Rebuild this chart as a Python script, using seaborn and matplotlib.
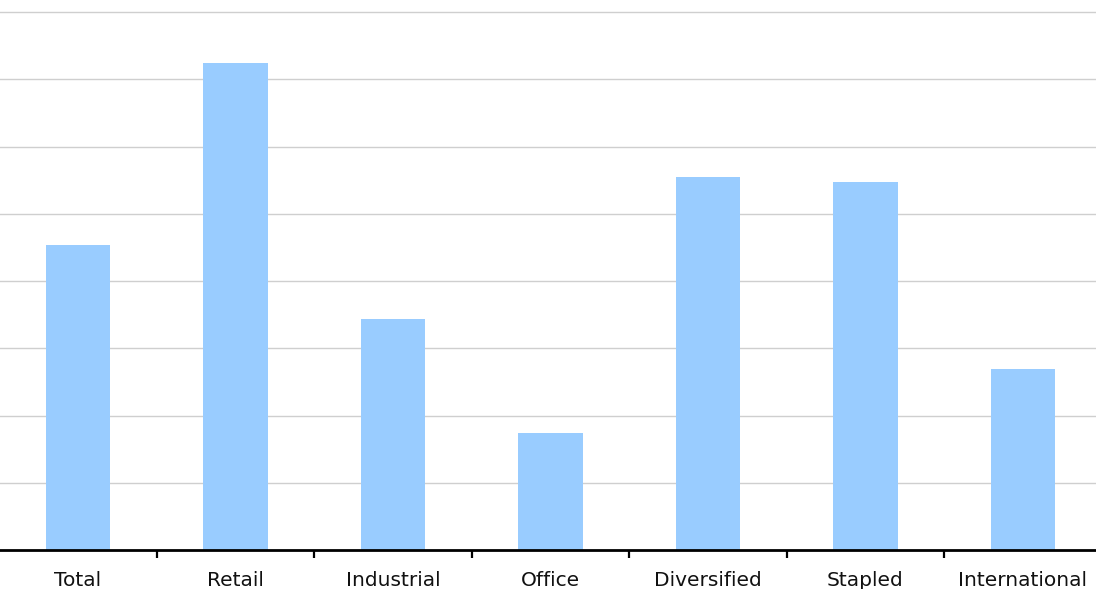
import matplotlib
matplotlib.use("Agg")
import matplotlib.pyplot as plt
import seaborn as sns
import pandas as pd

categories = ["Total", "Retail", "Industrial", "Office", "Diversified", "Stapled", "International"]
values = [4.53, 7.24, 3.43, 1.74, 5.54, 5.47, 2.69]
grid_levels = [1, 2, 3, 4, 5, 6, 7, 8]

df = pd.DataFrame({"sector": categories, "value": values})

sns.set_theme(style="white")
plt.rcParams["font.family"] = ["DejaVu Sans"]

fig = plt.figure(figsize=(10.96, 5.89), dpi=100)
# axes spans nearly the full figure width; bottom leaves room for labels
ax = fig.add_axes([-0.75 / 1096, 39 / 589, 1102.5 / 1096, 550 / 589])

sns.barplot(data=df, x="sector", y="value", color="#99CCFF", saturation=1,
            width=0.41, linewidth=0, edgecolor="none", ax=ax, zorder=3)

ax.set_xlim(-0.5, 6.5)
ax.set_ylim(0, 8 + 12 / 67.25)
ax.set_yticks(grid_levels)
ax.set_yticklabels([])
ax.tick_params(axis="y", length=0)
ax.yaxis.grid(True, color="#cfcfcf", linewidth=1.0, zorder=0)
ax.xaxis.grid(False)

# category ticks sit between bars
ax.set_xticks(range(len(categories)))
ax.set_xticklabels(categories, fontsize=14.5, color="#111111")
ax.tick_params(axis="x", which="major", length=0, pad=15)
ax.set_xticks([i + 0.5 for i in range(len(categories) - 1)], minor=True)
ax.tick_params(axis="x", which="minor", length=6, width=1.6, color="black",
               direction="out", bottom=True)

for side in ["left", "right", "top"]:
    ax.spines[side].set_visible(False)
ax.spines["bottom"].set_color("black")
ax.spines["bottom"].set_linewidth(2)
ax.spines["bottom"].set_zorder(4)

ax.set_xlabel("")
ax.set_ylabel("")

fig.savefig("out.png", dpi=100)
